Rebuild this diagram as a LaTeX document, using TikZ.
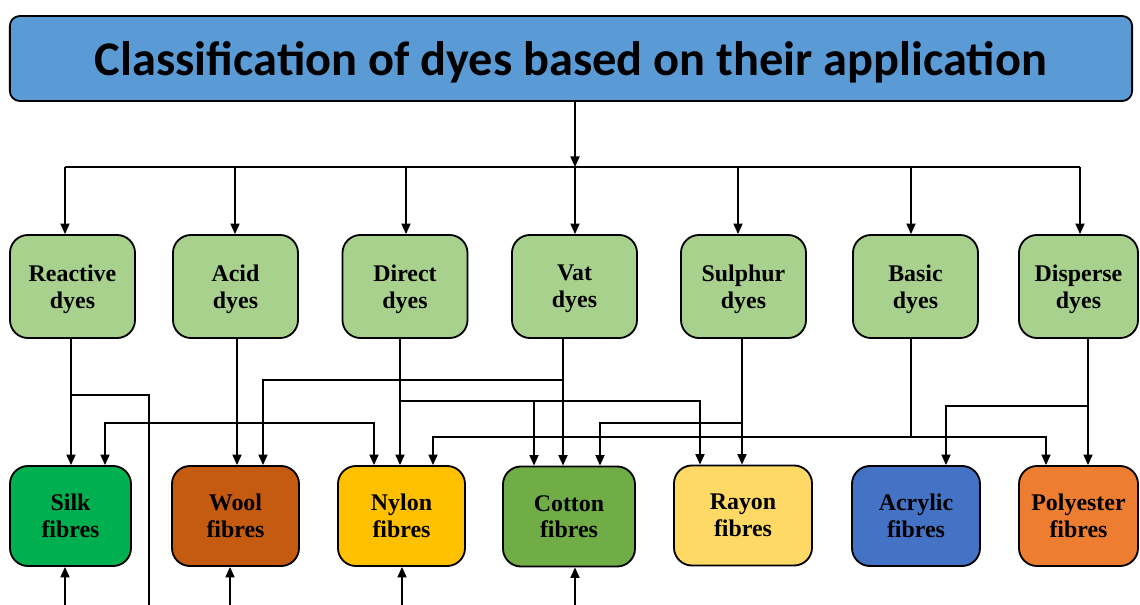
\documentclass[tikz,border=0pt]{standalone}
\usepackage{fontspec}
\setmainfont{Liberation Serif}[BoldFont={Liberation Serif Bold}]
\newfontfamily\headfont{Carlito}[BoldFont={Carlito Bold}]
\usepackage{tikz}
\usetikzlibrary{arrows.meta, positioning}
\definecolor{headblue}{HTML}{5B9BD5}
\definecolor{dyegreen}{HTML}{A9D18E}
\definecolor{silkgreen}{HTML}{00B050}
\definecolor{woolbrown}{HTML}{C55A11}
\definecolor{nylonamber}{HTML}{FFC000}
\definecolor{cottongreen}{HTML}{70AD47}
\definecolor{rayonyellow}{HTML}{FFD966}
\definecolor{acrylicblue}{HTML}{4472C4}
\definecolor{polyorange}{HTML}{ED7D31}

\begin{document}
\begin{tikzpicture}[x=0.025cm, y=-0.025cm, line width=1pt,
    >={Triangle[length=7.5pt, width=6.5pt]},
    box/.style={draw, line width=1.3pt, rounded corners=0.45cm, align=center, inner sep=0pt,
        minimum width=3.125cm, minimum height=2.575cm, text depth=0pt,
        font=\rmfamily\bfseries\fontsize{17}{19}\selectfont},
    dyebox/.style={box, fill=dyegreen},
    fibrebox/.style={box, minimum height=2.5cm}]
                        \useasboundingbox (0, 0) rectangle (1140, 605);
                        \node[draw, line width=1.3pt, rounded corners=0.25cm, fill=headblue,
                            minimum width=28.05cm, minimum height=2.125cm, text depth=0pt,
                            font=\headfont\bfseries\fontsize{34.4}{40}\selectfont]
                            (title) at (571, 58.5) {Classification of dyes based on their application};
                        \node[dyebox] (reactive) at (72.5, 286.5) {Reactive\\dyes};
                        \node[dyebox] (acid) at (235.5, 286.5) {Acid\\dyes};
                        \node[dyebox] (direct) at (405, 286.5) {Direct\\dyes};
                        \node[dyebox] (vat) at (574.5, 286.5) {Vat\\dyes};
                        \node[dyebox] (sulphur) at (743.5, 286.5) {Sulphur\\dyes};
                        \node[dyebox] (basic) at (915.5, 286.5) {Basic\\dyes};
                        \node[dyebox, minimum width=2.975cm] (disperse) at (1078.5, 286.5) {Disperse\\dyes};
                        \node[fibrebox, fill=silkgreen, minimum width=3.025cm] (silk) at (70.5, 516) {Silk\\fibres};
                        \node[fibrebox, fill=woolbrown, minimum width=3.175cm] (wool) at (235.5, 516) {Wool\\fibres};
                        \node[fibrebox, fill=nylonamber, minimum width=3.175cm] (nylon) at (401.5, 516) {Nylon\\fibres};
                        \node[fibrebox, fill=cottongreen, minimum width=3.3cm] (cotton) at (569, 516.5) {Cotton\\fibres};
                        \node[fibrebox, fill=rayonyellow, minimum width=3.45cm] (rayon) at (743, 515.5) {Rayon\\fibres};
                        \node[fibrebox, fill=acrylicblue, minimum width=3.2cm] (acrylic) at (916, 516) {Acrylic\\fibres};
                        \node[fibrebox, fill=polyorange, minimum width=2.975cm] (polyester) at (1078.5, 516) {Polyester\\fibres};
                        \coordinate (offreactive) at (149, 605);
                        \draw
                        (title.south -| 575,0) edge[->] (575, 167)
                        (65, 167) -- (1080, 167);
                        \foreach \x/\n in {65/reactive, 235/acid, 406/direct, 575/vat, 738/sulphur, 911/basic, 1080/disperse}
                            \draw[->] (\x, 167) -- (\n.north -| \x,0);
                        \draw
                        (reactive.south -| 71,0) edge[->] (silk.north -| 71,0)
                        (acid.south -| 237,0) edge[->] (wool.north -| 237,0)
                        (direct.south -| 400,0) edge[->] (nylon.north -| 400,0)
                        (vat.south -| 563,0) edge[->] (cotton.north -| 563,0)
                        (sulphur.south -| 742,0) edge[->] (rayon.north -| 742,0)
                        (basic.south -| 911,0) -- (911, 437)
                        (disperse.south -| 1088,0) edge[->] (polyester.north -| 1088,0);
                        \draw (71, 395) -| (offreactive);
                        \draw[<->] (silk.north -| 105,0) |- (374, 423) -- (nylon.north -| 374,0);
                        \draw[->] (563, 380) -| (wool.north -| 263,0);
                        \draw[->] (400, 401) -| (rayon.north -| 700,0);
                        \draw[->] (534, 401) -- (cotton.north -| 534,0);
                        \draw[->] (742, 423) -| (cotton.north -| 600,0);
                        \draw[<->] (nylon.north -| 433,0) |- (1046, 437) -- (polyester.north -| 1046,0);
                        \draw[->] (1088, 406) -| (acrylic.north -| 946,0);
                        \foreach \x/\n in {65/silk, 230/wool, 402/nylon, 575/cotton}
                            \draw[->] (\x, 605) -- (\n.south -| \x,0);
                    \end{tikzpicture}
\end{document}
